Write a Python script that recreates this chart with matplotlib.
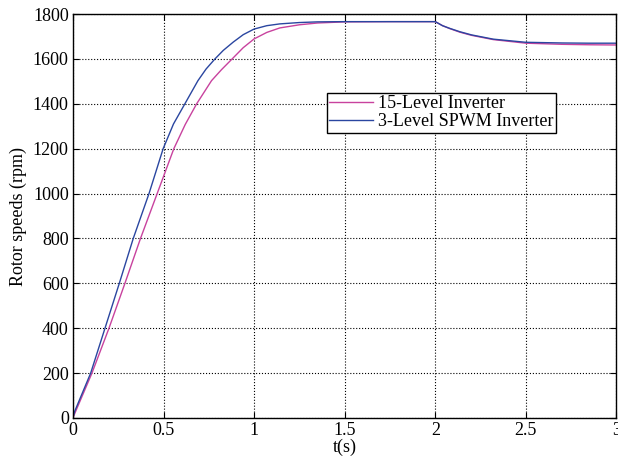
import matplotlib
matplotlib.use("Agg")
import matplotlib.pyplot as plt

# --- datos ---
t_15 = [0.0, 0.01, 0.105, 0.199, 0.287, 0.373, 0.465, 0.511, 0.557, 0.62, 0.683,
        0.765, 0.82, 0.885, 0.94, 1.0, 1.07, 1.142, 1.25, 1.35, 1.5, 1.75, 2.0, 2.04,
        2.08, 2.136, 2.2, 2.32, 2.5, 2.7, 2.85, 3.0]
w_15 = [0, 20, 200, 400, 600, 800, 1000, 1100, 1200, 1308, 1400,
        1503, 1552, 1605, 1650, 1689, 1718, 1738, 1752, 1760, 1765, 1766, 1766, 1748,
        1735, 1719, 1705, 1686, 1670, 1665, 1663, 1662]

t_3 = [0.0, 0.01, 0.098, 0.177, 0.256, 0.333, 0.42, 0.498, 0.555, 0.618, 0.69,
       0.735, 0.784, 0.83, 0.885, 0.94, 1.0, 1.07, 1.142, 1.25, 1.35, 1.5, 1.75, 2.0, 2.04,
       2.08, 2.136, 2.2, 2.32, 2.5, 2.7, 2.85, 3.0]
w_3 = [0, 30, 200, 400, 600, 800, 1000, 1200, 1310, 1400, 1503,
       1555, 1600, 1638, 1675, 1708, 1733, 1748, 1756, 1762, 1765, 1766, 1766, 1766, 1748,
       1736, 1721, 1707, 1688, 1674, 1671, 1670, 1670]

labels = ["15-Level Inverter", "3-Level SPWM Inverter"]

plt.rcParams['font.family'] = ['Liberation Serif', 'DejaVu Serif']

fig = plt.figure(figsize=(6.18, 4.61), dpi=100)
ax = fig.add_axes([0.118, 0.0933, 0.8795, 0.8763])

ax.plot(t_15, w_15, color='#c8429e', lw=1.0, label=labels[0])
ax.plot(t_3, w_3, color='#2a46a0', lw=1.0, label=labels[1])

ax.set_xlim(0, 3)
ax.set_ylim(0, 1800)
ax.set_xticks([0, 0.5, 1, 1.5, 2, 2.5, 3])
ax.set_xticklabels(["0", "0.5", "1", "1.5", "2", "2.5", "3"])
ax.set_yticks(range(0, 1801, 200))
ax.tick_params(direction='in', top=True, right=True, labelsize=13, length=4, pad=3)
ax.grid(True, color='black', linestyle=':', linewidth=0.8)
for s in ax.spines.values():
    s.set_linewidth(1.0)

ax.set_xlabel("t(s)", fontsize=13, labelpad=0)
ax.set_ylabel("Rotor speeds (rpm)", fontsize=13, labelpad=4)

leg = ax.legend(loc='upper left', bbox_to_anchor=(0.467, 0.805), fontsize=13,
                frameon=True, fancybox=False, edgecolor='black', framealpha=1,
                handlelength=2.4, handletextpad=0.3, borderpad=0.15, labelspacing=0.05,
                borderaxespad=0)
leg.get_frame().set_linewidth(1.0)

plt.savefig("out.png", dpi=100)
